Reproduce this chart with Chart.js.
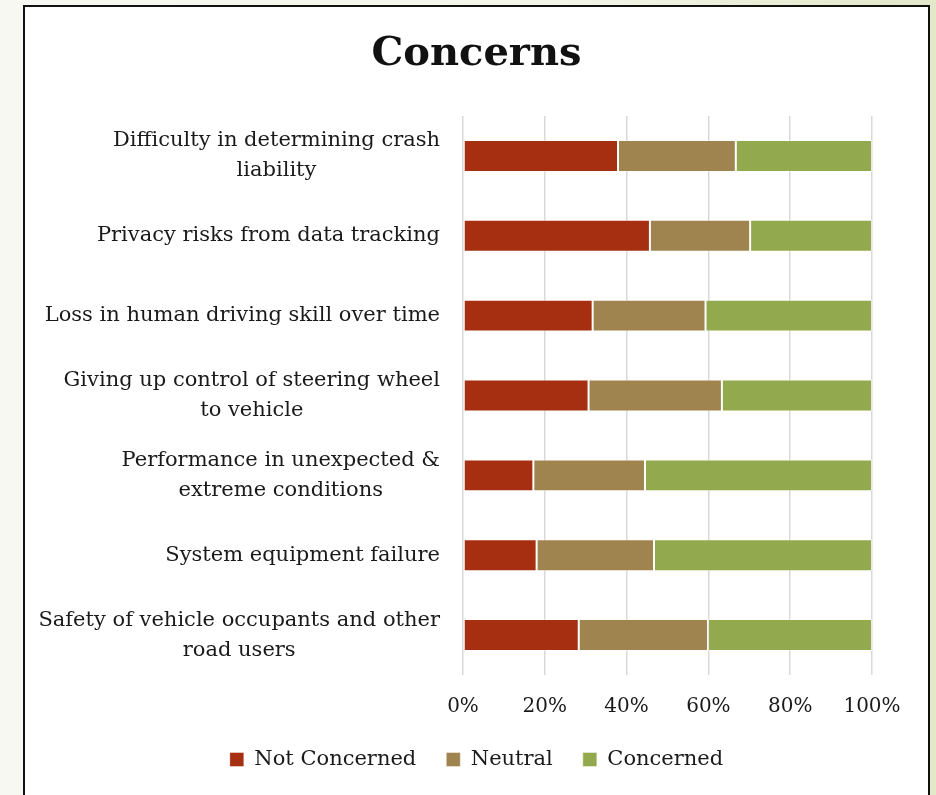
<!DOCTYPE html>
<html>
<head>
<meta charset="utf-8">
<script src="https://cdn.jsdelivr.net/npm/chart.js@4/dist/chart.umd.min.js"></script>
<style>
    html, body { margin: 0; padding: 0; width: 936px; height: 795px; overflow: hidden; }
    body { background: linear-gradient(to right, #f7f8f1 0%, #f3f5e8 60%, #e2e8c8 100%); }
    #box {
        position: absolute; left: 23px; top: 5px; width: 903px; height: 800px;
        background: #fff; border: 2px solid #111;
    }
    canvas { display: block; }
</style>
</head>
<body>
<div id="box"><canvas id="myChart" width="903" height="773"></canvas></div>
<script>
// categories, top to bottom (line breaks as in the original)
var categories = [
    ['Difficulty in determining crash', 'liability'],
    ['Privacy risks from data tracking'],
    ['Loss in human driving skill over time'],
    ['Giving up control of steering wheel', 'to vehicle'],
    ['Performance in unexpected &', 'extreme conditions'],
    ['System equipment failure'],
    ['Safety of vehicle occupants and other', 'road users']
];
var seriesNames = ['Not Concerned', 'Neutral', 'Concerned'];
var notConcerned = [37.9, 45.7, 31.7, 30.7, 17.2, 18.0, 28.3];
var neutral      = [28.8, 24.5, 27.6, 32.6, 27.3, 28.7, 31.6];
var concerned    = [33.3, 29.8, 40.7, 36.7, 55.5, 53.3, 40.1];
var tickValues = [0, 20, 40, 60, 80, 100];

var colors = ['#a52f10', '#a0844f', '#93a94d'];
var serif = '"DejaVu Serif", serif';

// category labels: right-aligned block, lines centred inside it
var yLabels = {
    id: 'yLabels',
    afterDraw: function (chart) {
        var scale = chart.scales.y;
        var ctx = chart.ctx;
        ctx.save();
        ctx.font = '21px ' + serif;
        ctx.fillStyle = '#1a1a1a';
        ctx.textAlign = 'center';
        ctx.textBaseline = 'middle';
        var right = chart.chartArea.left - 23;
        categories.forEach(function (lines, i) {
            var y = scale.getPixelForTick(i);
            var widest = Math.max.apply(null, lines.map(function (l) { return ctx.measureText(l).width; }));
            var cx = right - widest / 2;
            lines.forEach(function (line, j) {
                ctx.fillText(line, cx, y + (j - (lines.length - 1) / 2) * 30);
            });
        });
        ctx.restore();
    }
};

var data = {
    labels: categories.map(function (c) { return c.join(' '); }),
    datasets: [notConcerned, neutral, concerned].map(function (values, i) {
        return {
            label: seriesNames[i],
            data: values,
            backgroundColor: colors[i],
            borderColor: 'rgba(255,255,255,0.4)',
            borderWidth: 1,
            borderSkipped: false,
            categoryPercentage: 0.8,
            barPercentage: 0.5
        };
    })
};

var options = {
    indexAxis: 'y',
    responsive: false,
    animation: false,
    layout: { padding: 0 },
    plugins: {
        title: {
            display: true,
            text: 'Concerns',
            color: '#111',
            font: { family: serif, size: 40, weight: 'bold', lineHeight: 1.2 },
            padding: { top: 24, bottom: 37 }
        },
        legend: {
            position: 'bottom',
            labels: {
                color: '#1a1a1a',
                font: { family: serif, size: 21 },
                boxWidth: 14,
                boxHeight: 14,
                padding: 30
            }
        },
        tooltip: { enabled: false }
    },
    scales: {
        x: {
            stacked: true,
            min: 0,
            max: 100,
            afterBuildTicks: function (scale) {
                scale.ticks = tickValues.map(function (v) { return { value: v }; });
            },
            afterFit: function (scale) { scale.height = 44; },
            ticks: {
                color: '#1a1a1a',
                font: { family: serif, size: 20 },
                padding: 20,
                callback: function (v) { return v + '%'; }
            },
            grid: { color: '#d9d9d9', lineWidth: 1.5, drawTicks: false },
            border: { display: false }
        },
        y: {
            stacked: true,
            afterFit: function (scale) { scale.width = 438; },
            ticks: { display: false },
            grid: { display: false },
            border: { display: false }
        },
        // empty right-hand axis, only keeps the white margin right of the plot
        yRight: {
            type: 'linear',
            position: 'right',
            afterFit: function (scale) { scale.width = 56; },
            ticks: { display: false },
            grid: { display: false },
            border: { display: false }
        }
    }
};

var ctx = document.getElementById('myChart').getContext('2d');
var myChart = new Chart(ctx, {
    type: 'bar',
    data: data,
    options: options,
    plugins: [yLabels]
});
</script>
</body>
</html>
